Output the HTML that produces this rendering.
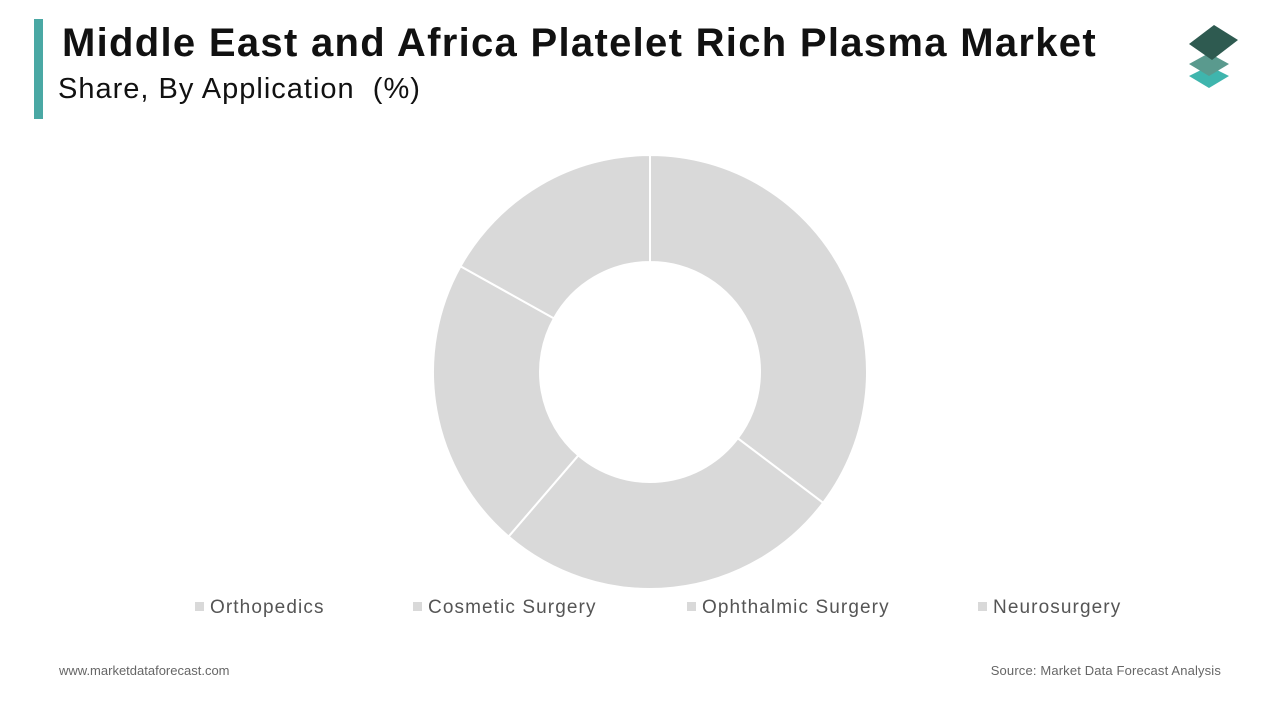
<!DOCTYPE html>
<html><head><meta charset="utf-8"><style>
body{margin:0;width:1280px;height:720px;background:#fff;font-family:"Liberation Sans",sans-serif;position:relative;overflow:hidden}
.abs{position:absolute}
</style></head><body>
<div class="abs" style="left:34px;top:19px;width:9px;height:100px;background:#4aa8a4"></div>
<div class="abs" style="left:62px;top:21px;font-size:40px;letter-spacing:1.3px;font-weight:bold;color:#111;white-space:nowrap">Middle East and Africa Platelet Rich Plasma Market</div>
<div class="abs" style="left:58px;top:73px;font-size:29px;letter-spacing:1px;color:#111;white-space:nowrap">Share, By Application&nbsp; (%)</div>
<svg class="abs" style="left:1186px;top:22px" width="66" height="70" viewBox="0 0 66 70">
<polygon points="3,54 23,44 43,54 23,66" fill="#3fb5ad"/>
<polygon points="3,42 23,31 43,42 23,54" fill="#5a9a8e"/>
<polygon points="3,22 28,3 52,18 26,38" fill="#2e5a50"/>
</svg>
<svg class="abs" id="chart" style="left:0;top:0" width="1280" height="720"></svg>
<div class="abs" id="legend" style="left:0;top:597px;width:1280px;height:24px"></div>
<div class="abs" style="left:59px;top:663px;font-size:13px;color:#666">www.marketdataforecast.com</div>
<div class="abs" style="right:59px;top:663px;font-size:13px;letter-spacing:0.15px;color:#666">Source: Market Data Forecast Analysis</div>
<script>
const categories=["Orthopedics","Cosmetic Surgery","Ophthalmic Surgery","Neurosurgery"];
const values=[35.3,26.0,21.8,16.9];
const legendX=[195,413,687,978];
const cx=650,cy=372,R=217,r=110;
const svg=document.getElementById('chart');
const ns="http://www.w3.org/2000/svg";
const total=values.reduce((a,b)=>a+b,0);
function pt(a,rad){return [cx+rad*Math.sin(a),cy-rad*Math.cos(a)];}
let acc=0;
values.forEach((v,i)=>{
  const a0=acc/total*2*Math.PI;acc+=v;const a1=acc/total*2*Math.PI;
  const lg=(a1-a0)>Math.PI?1:0;
  const [x0,y0]=pt(a0,R),[x1,y1]=pt(a1,R),[x2,y2]=pt(a1,r),[x3,y3]=pt(a0,r);
  const p=document.createElementNS(ns,'path');
  p.setAttribute('d',`M${x0},${y0}A${R},${R} 0 ${lg} 1 ${x1},${y1}L${x2},${y2}A${r},${r} 0 ${lg} 0 ${x3},${y3}Z`);
  p.setAttribute('fill','#d9d9d9');p.setAttribute('stroke','#fff');p.setAttribute('stroke-width','2');
  
  
  svg.appendChild(p);
});
const lg=document.getElementById('legend');
categories.forEach((c,i)=>{
  const d=document.createElement('div');
  
  
  d.style.cssText=`position:absolute;left:${legendX[i]}px;top:0;font-size:19px;letter-spacing:1.1px;color:#555;white-space:nowrap`;
  d.innerHTML=`<span style="display:inline-block;width:9px;height:9px;background:#d9d9d9;margin-right:6px;vertical-align:2px"></span>${c}`;
  lg.appendChild(d);
});
</script>
</body></html>
